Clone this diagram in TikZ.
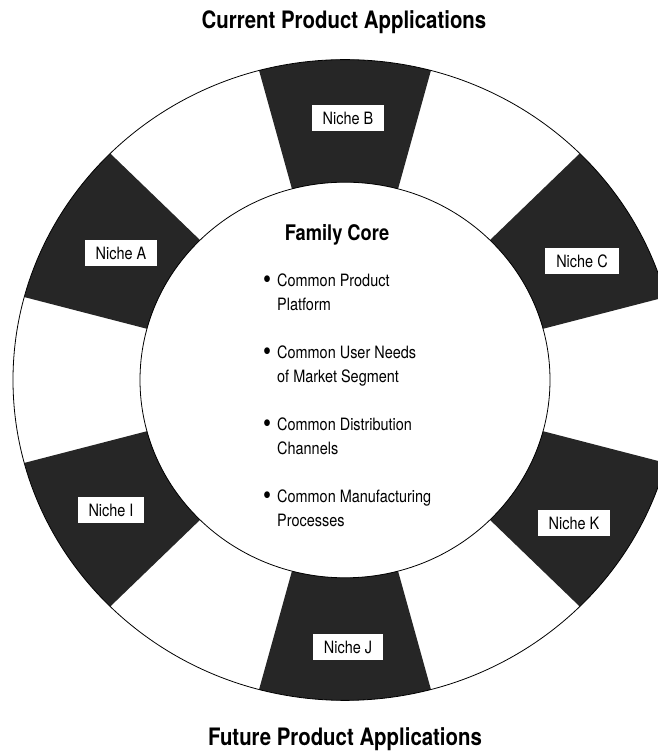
\documentclass[tikz,border=0pt]{standalone}
\usepackage{fontspec}
\setmainfont{TeX Gyre Heros}[FakeStretch=0.85]
\usepackage{tikz}

\newcommand{\needbullet}{\llap{\raisebox{-1.5bp}{\fontsize{27bp}{24bp}\selectfont\textbullet}\hspace{6bp}}}

\begin{document}
\begin{tikzpicture}[x=1bp, y=1bp,
  title/.style={font=\fontsize{24bp}{28bp}\selectfont\bfseries},
  niche/.style={fill=white, inner xsep=11bp, inner ysep=0pt, minimum height=26bp,
    font=\fontsize{17bp}{20bp}\selectfont},
  sector/.style={fill=black!85},
  rim/.style={line width=0.8bp}]
\useasboundingbox (0,0) rectangle (658,752);
\clip (0,0) rectangle (658,752);
% the ring, six shaded niches of 30 degrees each
\begin{scope}[shift={(345,372)}, yscale=0.965]
  \foreach \a in {15,75,...,315}
    \fill[sector] (\a:205) arc[start angle=\a, end angle=\a+30, radius=205]
      -- (\a+30:332) arc[start angle=\a+30, end angle=\a, radius=332] -- cycle;
  \draw[rim] (0,0) circle[radius=332];
  \draw[rim] (0,0) circle[radius=205];
\end{scope}
\node[title] (current) at (344,730) {Current Product Applications};
\node[title] (future) at (345,13) {Future Product Applications};
% family core in the middle
\node[font=\fontsize{21.5bp}{24bp}\selectfont\bfseries] (core) at (337,517) {Family Core};
\node[align=left, anchor=north west, inner sep=0pt, font=\fontsize{17bp}{24bp}\selectfont] (needs) at (277,478)
  {\needbullet Common Product\\ Platform\\[24bp]
   \needbullet Common User Needs\\ of Market Segment\\[24bp]
   \needbullet Common Distribution\\ Channels\\[24bp]
   \needbullet Common Manufacturing\\ Processes};
% niche labels
\node[niche] (nicheA) at (121,499) {Niche A};
\node[niche] (nicheB) at (348,634) {Niche B};
\node[niche] (nicheC) at (582,491) {Niche C};
\node[niche] (nicheK) at (574,229) {Niche K};
\node[niche] (nicheJ) at (348,105) {Niche J};
\node[niche] (nicheI) at (111,242) {Niche I};
\end{tikzpicture}
\end{document}
